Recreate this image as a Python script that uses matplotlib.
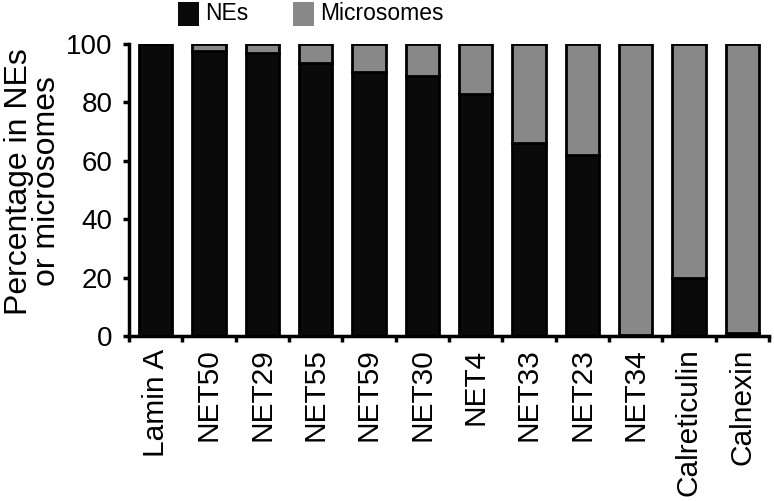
import numpy as np
import matplotlib.pyplot as plt
from matplotlib.patches import Rectangle

plt.rcParams['font.family'] = ['Liberation Sans', 'DejaVu Sans']

proteins = ["Lamin A", "NET50", "NET29", "NET55", "NET59", "NET30",
            "NET4", "NET33", "NET23", "NET34", "Calreticulin", "Calnexin"]
nes = [100, 97.5, 97, 93.5, 90.5, 89, 83, 66, 62, 0.5, 20, 1]
microsomes = [100 - v for v in nes]

W, H = 774, 501
fig = plt.figure(figsize=(W / 100, H / 100), dpi=100)
ax = fig.add_axes([129 / W, 1 - 336 / H, 640 / W, 292 / H])

x = np.arange(len(proteins))
ax.bar(x, nes, width=0.62, color="#0a0a0a", edgecolor="black", linewidth=2)
ax.bar(x, microsomes, width=0.62, bottom=nes, color="#888888",
       edgecolor="black", linewidth=2)

ax.set_xlim(-0.5, len(proteins) - 0.5)
ax.set_ylim(0, 100)
ax.set_yticks([0, 20, 40, 60, 80, 100])
ax.set_xticks(x)
ax.set_xticklabels(proteins, rotation=90, fontsize=21.5)
ax.tick_params(axis="x", length=0, pad=9)
ax.set_xticks(np.arange(-0.5, len(proteins)), minor=True)
ax.tick_params(axis="x", which="minor", length=4, width=2.5, direction="out")
ax.tick_params(axis="y", labelsize=20, length=4, width=2.5, direction="out", pad=8)
for side in ["top", "right"]:
    ax.spines[side].set_visible(False)
for side in ["left", "bottom"]:
    ax.spines[side].set_linewidth(2.5)

ax.set_ylabel("Percentage in NEs\nor microsomes", fontsize=23, linespacing=0.92)
ax.yaxis.set_label_coords(-0.104, 0.53)

# legend drawn by hand in figure pixels
for lx, lab, col in [(178, "NEs", "#0a0a0a"), (293, "Microsomes", "#888888")]:
    fig.patches.append(Rectangle((lx / W, 1 - 26 / H), 21 / W, 24 / H,
                                 transform=fig.transFigure, facecolor=col,
                                 edgecolor="none"))
    fig.text((lx + 27) / W, 1 - 14 / H, lab, fontsize=16.5, va="center", ha="left")

fig.savefig("out.png", dpi=100)
